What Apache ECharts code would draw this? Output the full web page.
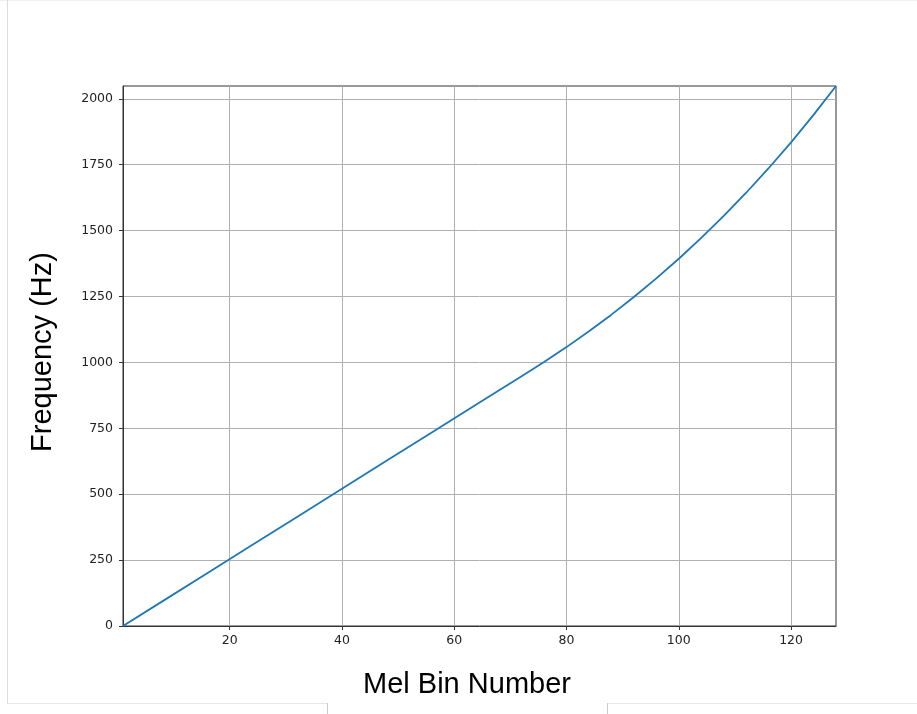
<!DOCTYPE html>
<html>
<head>
<meta charset="utf-8">
<script src="https://cdn.jsdelivr.net/npm/echarts@6/dist/echarts.min.js"></script>
<style>
  html, body { margin: 0; padding: 0; background: #ffffff; }
  #chart { width: 917px; height: 714px; }
</style>
</head>
<body>
<div id="chart"></div>
<script>
// Mel bin index -> centre frequency (Hz)
const melBins = [1, 8, 16, 24, 32, 40, 48, 56, 64, 72, 76, 80, 84, 88, 92, 96, 100, 104, 108, 112, 116, 120, 124, 128];
const frequencies = [0, 93.4, 200.2, 307.0, 413.8, 520.6, 627.4, 734.2, 841.0, 947.8, 1001.2, 1057.9, 1117.8, 1181.0, 1247.9, 1318.6, 1393.2, 1472.1, 1555.4, 1643.5, 1736.5, 1834.8, 1938.7, 2048.4];
const xTicks = [20, 40, 60, 80, 100, 120];
const yTicks = [0, 250, 500, 750, 1000, 1250, 1500, 1750, 2000];

const points = melBins.map((b, i) => [b, frequencies[i]]);

const chart = echarts.init(document.getElementById('chart'), null, { renderer: 'canvas' });

const tickFont = { fontFamily: 'DejaVu Sans', fontSize: 12.5, color: '#222222', formatter: (v) => String(v) };
const titleFont = { fontFamily: 'Liberation Sans', fontSize: 29, color: '#000000' };

chart.setOption({
  animation: false,
  backgroundColor: '#ffffff',
  grid: { left: 123, right: 81, top: 86, bottom: 88, show: true, borderColor: '#333333', borderWidth: 1, backgroundColor: 'transparent' },
  xAxis: {
    type: 'value',
    min: 1,
    max: 128,
    name: 'Mel Bin Number',
    nameLocation: 'middle',
    nameGap: 44,
    nameTextStyle: { ...titleFont, padding: [0, 25, 0, 0] },
    axisLine: { show: true, lineStyle: { color: '#333333', width: 1 } },
    axisTick: { show: true, customValues: xTicks, length: 4, lineStyle: { color: '#333333' } },
    axisLabel: { customValues: xTicks, margin: 8, ...tickFont },
    splitLine: { show: true, lineStyle: { color: '#b0b0b0', width: 1 } }
  },
  yAxis: {
    type: 'value',
    min: 0,
    max: 2048.4,
    interval: 250,
    name: 'Frequency (Hz)',
    nameLocation: 'middle',
    nameGap: 66,
    nameTextStyle: { ...titleFont, padding: [0, 0, 0, 8] },
    axisLine: { show: true, lineStyle: { color: '#333333', width: 1 } },
    axisTick: { show: true, customValues: yTicks, length: 4, lineStyle: { color: '#333333' } },
    axisLabel: { customValues: yTicks, margin: 10, ...tickFont },
    splitLine: { show: true, lineStyle: { color: '#b0b0b0', width: 1 } }
  },
  series: [{
    type: 'line',
    data: points,
    showSymbol: false,
    smooth: false,
    lineStyle: { color: '#1f77b4', width: 1.8 },
    z: 3
  }],
  graphic: [
    { type: 'line', shape: { x1: 0, y1: 0.5, x2: 917, y2: 0.5 }, style: { stroke: '#f0f0f0', lineWidth: 1 }, silent: true },
    { type: 'line', shape: { x1: 7.5, y1: 0, x2: 7.5, y2: 703 }, style: { stroke: '#dddddd', lineWidth: 1 }, silent: true },
    { type: 'line', shape: { x1: 7, y1: 703.5, x2: 327, y2: 703.5 }, style: { stroke: '#e6e6e6', lineWidth: 1 }, silent: true },
    { type: 'line', shape: { x1: 327.5, y1: 703, x2: 327.5, y2: 714 }, style: { stroke: '#cccccc', lineWidth: 1 }, silent: true },
    { type: 'line', shape: { x1: 607, y1: 703.5, x2: 917, y2: 703.5 }, style: { stroke: '#e6e6e6', lineWidth: 1 }, silent: true },
    { type: 'line', shape: { x1: 607.5, y1: 703, x2: 607.5, y2: 714 }, style: { stroke: '#cccccc', lineWidth: 1 }, silent: true }
  ]
});
</script>
</body>
</html>
